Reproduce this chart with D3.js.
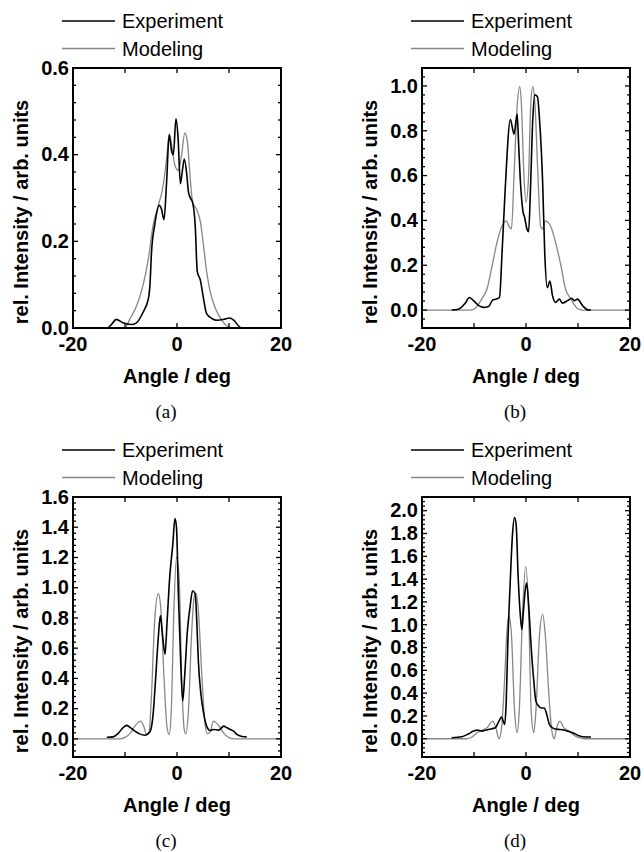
<!DOCTYPE html>
<html>
<head>
<meta charset="utf-8">
<script src="https://cdn.jsdelivr.net/npm/d3@7"></script>
<style>
  body { margin: 0; background: #fff; }
  svg { display: block; }
  .tick-label { font-family: "Liberation Sans", Arial, sans-serif; font-weight: bold; font-size: 20px; }
  .axis-title { font-family: "Liberation Sans", Arial, sans-serif; font-weight: bold; font-size: 20px; }
  .legend-text { font-family: "Liberation Sans", Arial, sans-serif; font-size: 20px; }
  .caption { font-family: "Liberation Serif", "Times New Roman", serif; font-size: 19px; }
</style>
</head>
<body>
<div id="chart"></div>
<script>
// angle (deg), rel. intensity
const expA = [[-13.3,0],[-12.6,0.008],[-11.7,0.02],[-10.4,0.012],[-8.8,0.008],[-7.8,0.012],[-6.5,0.037],[-5.5,0.068],
  [-5.2,0.1],[-4.9,0.175],[-4.3,0.237],[-3.4,0.283],[-3.0,0.275],[-2.5,0.25],[-2.0,0.337],[-1.5,0.446],[-1.0,0.406],
  [-0.7,0.40],[-0.2,0.483],[0.2,0.44],[0.65,0.333],[1.0,0.36],[1.4,0.39],[1.9,0.352],[2.2,0.314],[2.5,0.302],[3.0,0.29],
  [3.5,0.237],[3.9,0.13],[4.5,0.11],[5.0,0.075],[5.7,0.033],[6.7,0.022],[7.7,0.018],[9.0,0.02],[10.1,0.023],[10.9,0.018],
  [11.9,0.004],[12.3,0]];
const modA = [[-20,0],[-10,0],[-9.1,0.02],[-7.8,0.05],[-6.5,0.1],[-5.5,0.16],[-4.6,0.237],[-3.6,0.283],[-2.8,0.32],
  [-2.0,0.39],[-1.5,0.448],[-1.0,0.42],[-0.4,0.375],[0.26,0.364],[0.9,0.4],[1.5,0.45],[2.0,0.43],[2.5,0.352],[3.0,0.29],
  [3.7,0.275],[4.5,0.245],[5.1,0.19],[5.7,0.13],[6.4,0.083],[7.4,0.045],[8.6,0.018],[9.9,0.002],[10.5,0],[20,0]];

const expB = [[-14.3,0],[-13,0.004],[-11.7,0.03],[-10.9,0.056],[-10.1,0.042],[-9.2,0.022],[-8.2,0.012],[-7.2,0.016],
  [-6.4,0.045],[-5.7,0.049],[-5.1,0.056],[-4.6,0.257],[-4.0,0.54],[-3.0,0.85],[-2.3,0.785],[-1.7,0.874],[-1.4,0.73],
  [-1.1,0.584],[-0.6,0.443],[-0.26,0.413],[0.2,0.36],[0.5,0.35],[0.84,0.525],[1.3,0.85],[1.7,0.96],[2.2,0.952],
  [2.6,0.85],[3.2,0.57],[3.6,0.257],[4.1,0.1],[4.6,0.13],[5.1,0.064],[5.7,0.034],[6.4,0.049],[7.0,0.031],[8.0,0.042],
  [8.8,0.053],[9.3,0.042],[9.9,0.049],[10.9,0.019],[11.9,0.001],[12.5,0]];
const modB = [[-20,0],[-10.7,0],[-9.8,0.007],[-8.5,0.05],[-7.5,0.094],[-6.5,0.2],[-5.6,0.3],[-4.6,0.376],[-3.8,0.398],
  [-3.3,0.376],[-2.8,0.361],[-2.3,0.6],[-1.7,0.91],[-1.2,0.997],[-0.9,0.926],[-0.4,0.6],[0,0.48],[0.5,0.6],[0.9,0.91],
  [1.3,0.997],[1.7,0.926],[2.3,0.6],[2.8,0.376],[3.2,0.361],[3.7,0.398],[4.7,0.376],[5.7,0.3],[6.7,0.2],[7.6,0.094],
  [8.6,0.05],[9.9,0.007],[10.8,0],[20,0]];

const expC = [[-13.5,0.011],[-12.3,0.013],[-11.4,0.033],[-10.4,0.073],[-9.7,0.089],[-9.1,0.078],[-8.1,0.051],[-7.2,0.033],
  [-6.2,0.024],[-5.2,0.047],[-4.6,0.16],[-4.1,0.405],[-3.6,0.67],[-3.2,0.815],[-2.8,0.693],[-2.3,0.56],[-1.9,0.78],
  [-1.4,1.07],[-0.8,1.29],[-0.4,1.457],[-0.1,1.4],[0.26,0.96],[0.7,0.52],[1.1,0.25],[1.5,0.43],[2.0,0.715],[2.5,0.87],
  [3.0,0.98],[3.5,0.96],[3.8,0.78],[4.1,0.52],[4.6,0.295],[5.1,0.173],[5.7,0.084],[6.4,0.055],[7.0,0.062],[8.0,0.058],
  [9.0,0.084],[9.6,0.073],[10.3,0.062],[10.9,0.051],[11.5,0.029],[12.5,0.016],[13.4,0.013]];
const modC = [[-20,0],[-11,0],[-10,0.01],[-9.1,0.033],[-8.1,0.084],[-7.0,0.117],[-6.4,0.084],[-5.9,0.033],[-5.4,0.04],
  [-4.9,0.295],[-4.3,0.78],[-3.6,0.96],[-3.1,0.86],[-2.5,0.405],[-1.9,0.073],[-1.5,0.029],[-1.1,0.184],[-0.6,0.85],
  [-0.1,1.2],[0.4,1.07],[0.9,0.405],[1.35,0.073],[1.7,0.033],[2.2,0.184],[2.8,0.69],[3.3,0.937],[3.7,0.963],[4.1,0.85],
  [4.8,0.405],[5.4,0.095],[5.9,0.033],[6.4,0.047],[7.0,0.117],[8.1,0.084],[9.1,0.033],[10.1,0.007],[10.9,0],[20,0]];

const expD = [[-14.3,0.009],[-12.3,0.018],[-11,0.044],[-10.1,0.067],[-9.4,0.076],[-8.5,0.067],[-7.2,0.082],[-5.9,0.096],
  [-5.2,0.155],[-4.7,0.19],[-4.1,0.126],[-3.8,0.33],[-3.5,0.826],[-3.0,1.41],[-2.6,1.79],[-2.2,1.94],[-1.9,1.88],
  [-1.5,1.41],[-1.1,1.09],[-0.8,0.958],[-0.45,1.15],[-0.1,1.32],[0.13,1.366],[0.5,1.18],[1.0,0.8],[1.5,0.505],
  [1.9,0.33],[2.45,0.286],[3.0,0.27],[3.5,0.27],[3.9,0.228],[4.5,0.126],[5.1,0.096],[6.1,0.082],[7.0,0.079],
  [8.0,0.067],[9.0,0.053],[9.9,0.032],[10.9,0.018],[12.5,0.015]];
const modD = [[-20,0],[-11.4,0],[-10.4,0.015],[-9.4,0.053],[-8.5,0.073],[-7.5,0.096],[-6.4,0.155],[-5.8,0.096],[-5.2,0.0],
  [-4.7,0.096],[-4.1,0.534],[-3.7,0.914],[-3.3,1.08],[-2.8,0.914],[-2.2,0.242],[-1.7,0.053],[-1.3,0.242],[-0.65,1.12],
  [-0.06,1.51],[0.5,1.12],[1.0,0.242],[1.5,0.053],[1.9,0.242],[2.6,0.914],[3.2,1.09],[3.7,0.914],[4.4,0.388],
  [4.9,0.096],[5.4,0.0],[5.9,0.096],[6.5,0.155],[7.3,0.096],[8.3,0.067],[9.2,0.032],[10.2,0.009],[11.2,0],[20,0]];

const xMajor = [-20, 0, 20];
const xMinor = [-10, 10];
const yMajorA = [0, 0.2, 0.4, 0.6];
const yMajorB = [0, 0.2, 0.4, 0.6, 0.8, 1.0];
const yMajorC = [0, 0.2, 0.4, 0.6, 0.8, 1.0, 1.2, 1.4, 1.6];
const yMajorD = [0, 0.2, 0.4, 0.6, 0.8, 1.0, 1.2, 1.4, 1.6, 1.8, 2.0];
const seriesNames = ['Experiment', 'Modeling'];
const captions = ['(a)', '(b)', '(c)', '(d)'];

const W = 644, H = 852;
const svg = d3.select('#chart').append('svg')
  .attr('width', W)
  .attr('height', H);

const colors = ['#000', '#878787'];

const panels = [
  {left: 73,  right: 281, top: 68,  bottom: 328, ydom: [0, 0.6],      ymaj: yMajorA, data: [expA, modA], cap: captions[0]},
  {left: 422, right: 630, top: 68,  bottom: 328, ydom: [-0.08, 1.08], ymaj: yMajorB, data: [expB, modB], cap: captions[1]},
  {left: 73,  right: 281, top: 497, bottom: 757, ydom: [-0.12, 1.6],  ymaj: yMajorC, data: [expC, modC], cap: captions[2]},
  {left: 422, right: 630, top: 497, bottom: 757, ydom: [-0.16, 2.12], ymaj: yMajorD, data: [expD, modD], cap: captions[3]}
];

const fmt = d3.format('.1f');

const drawPanel = (p) => {
  let g = svg.append('g');
  let x = d3.scaleLinear().domain([-20, 20]).range([p.left, p.right]);
  let y = d3.scaleLinear().domain(p.ydom).range([p.bottom, p.top]);

  // minor y ticks every 0.04
  let yMinor = d3.range(Math.ceil(p.ydom[0] / 0.04 - 1e-6), Math.floor(p.ydom[1] / 0.04 + 1e-6) + 1)
    .map(k => k * 0.04);

  let clipId = 'clip' + p.left + p.top;
  g.append('clipPath').attr('id', clipId)
    .append('rect')
    .attr('x', p.left).attr('y', p.top - 1)
    .attr('width', p.right - p.left).attr('height', p.bottom - p.top + 1);

  // curves
  let line = d3.line()
    .x(d => x(d[0]))
    .y(d => y(d[1]))
    .curve(d3.curveMonotoneX);

  // model first, experiment on top
  [1, 0].forEach(i => {
    g.append('path')
      .attr('d', line(p.data[i]))
      .attr('clip-path', 'url(#' + clipId + ')')
      .style('fill', 'none')
      .style('stroke', colors[i])
      .style('stroke-width', i === 0 ? 1.6 : 1.3)
      .style('stroke-linejoin', 'round');
  });

  // ticks (inward, all four sides)
  let tk = g.append('g').style('stroke', '#000').style('stroke-width', 1.3);
  yMinor.forEach(v => {
    let major = p.ymaj.some(m => Math.abs(m - v) < 1e-6);
    let len = major ? 5 : 3;
    tk.append('line').attr('x1', p.left).attr('x2', p.left + len).attr('y1', y(v)).attr('y2', y(v));
    tk.append('line').attr('x1', p.right).attr('x2', p.right - len).attr('y1', y(v)).attr('y2', y(v));
  });
  xMajor.concat(xMinor).forEach(v => {
    tk.append('line').attr('x1', x(v)).attr('x2', x(v)).attr('y1', p.bottom).attr('y2', p.bottom - 5);
    tk.append('line').attr('x1', x(v)).attr('x2', x(v)).attr('y1', p.top).attr('y2', p.top + 5);
  });

  // frame
  g.append('rect')
    .attr('x', p.left).attr('y', p.top)
    .attr('width', p.right - p.left).attr('height', p.bottom - p.top)
    .style('fill', 'none')
    .style('stroke', '#000')
    .style('stroke-width', 2);

  // tick labels
  g.selectAll('.ylab').data(p.ymaj).enter().append('text')
    .attr('class', 'tick-label')
    .attr('x', p.left - 4)
    .attr('y', d => y(d))
    .attr('dy', '0.34em')
    .attr('text-anchor', 'end')
    .text(d => fmt(d));

  g.selectAll('.xlab').data(xMajor).enter().append('text')
    .attr('class', 'tick-label')
    .attr('x', d => x(d))
    .attr('y', p.bottom + 23)
    .attr('text-anchor', 'middle')
    .text(d => String(d));

  // axis titles
  g.append('text')
    .attr('class', 'axis-title')
    .attr('x', (p.left + p.right) / 2)
    .attr('y', p.bottom + 55)
    .attr('text-anchor', 'middle')
    .text('Angle / deg');

  g.append('text')
    .attr('class', 'axis-title')
    .attr('transform', 'translate(' + (p.left - 45) + ',' + ((p.top + p.bottom) / 2 + 14) + ') rotate(-90)')
    .attr('text-anchor', 'middle')
    .text('rel. Intensity / arb. units');

  // legend
  seriesNames.forEach((name, i) => {
    let ly = p.top - 47 + i * 27.5;
    g.append('line')
      .attr('x1', p.left - 11).attr('x2', p.left + 42)
      .attr('y1', ly).attr('y2', ly)
      .style('stroke', colors[i])
      .style('stroke-width', 1.4);
    g.append('text')
      .attr('class', 'legend-text')
      .attr('x', p.left + 49)
      .attr('y', ly + 7)
      .text(name);
  });

  // caption
  g.append('text')
    .attr('class', 'caption')
    .attr('x', p.left + 93)
    .attr('y', p.bottom + 90)
    .attr('text-anchor', 'middle')
    .text(p.cap);
}

panels.forEach(drawPanel);
</script>
</body>
</html>
